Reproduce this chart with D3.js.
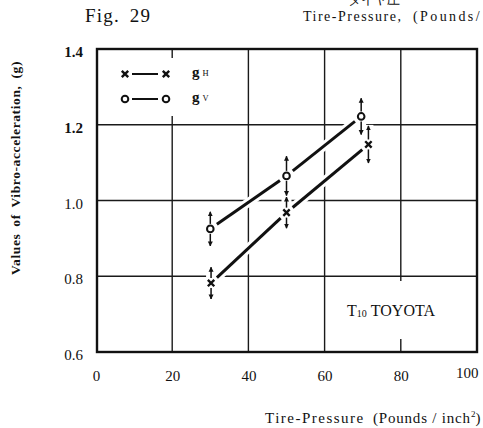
<!DOCTYPE html>
<html>
<head>
<meta charset="utf-8">
<script src="https://cdn.jsdelivr.net/npm/d3@7"></script>
<style>
  html, body { margin: 0; padding: 0; background: #fff; }
  svg { display: block; }
  text { font-family: "Liberation Serif", "DejaVu Serif", serif; fill: #111; }
</style>
</head>
<body>
<svg id="chart" width="483" height="428"></svg>
<script>
// Tire pressure (psi) and measured vibro-acceleration (g)
const pressureV = [30, 50, 69.6];
const accelV    = [0.925, 1.065, 1.222];
const spreadV   = [0.045, 0.052, 0.048];

const pressureH = [30.2, 50, 71.5];
const accelH    = [0.782, 0.968, 1.148];
const spreadH   = [0.042, 0.041, 0.049];

const xTicks = [0, 20, 40, 60, 80, 100];
const yTicks = [0.6, 0.8, 1.0, 1.2, 1.4];
const xGrid  = [20, 40, 60, 80];
const yGrid  = [0.8, 1.0, 1.2];

const svg = d3.select("#chart");
const plotL = 97, plotR = 477, plotT = 49, plotB = 352;

const x = d3.scaleLinear().domain([0, 100]).range([96, 477]);
const y = d3.scaleLinear().domain([0.6, 1.4]).range([plotB, plotT]);

// header
svg.append("text").attr("x", 348).attr("y", 4)
  .attr("font-family", "Noto Sans CJK JP").attr("font-size", 13).text("タイヤ圧");
svg.append("text").attr("x", 85).attr("y", 22)
  .attr("font-size", 19).attr("letter-spacing", 1.2).attr("word-spacing", 4).text("Fig. 29");
const hdr = svg.append("text").attr("y", 21).attr("font-size", 14);
hdr.append("tspan").attr("x", 303).attr("letter-spacing", 1.5).text("Tire-Pressure,");
hdr.append("tspan").attr("x", 413).attr("letter-spacing", 2.4).text("(Pounds/");

// grid
const grid = svg.append("g").attr("stroke", "#1a1a1a").attr("stroke-width", 1.4);
grid.selectAll("line.h").data(yGrid).join("line")
  .attr("x1", plotL).attr("x2", plotR)
  .attr("y1", d => y(d)).attr("y2", d => y(d));
grid.selectAll("line.v").data(xGrid).join("line")
  .attr("x1", d => x(d)).attr("x2", d => x(d))
  .attr("y1", plotT).attr("y2", plotB);

// white panels behind the legend and the vehicle label
svg.append("rect").attr("x", 108).attr("y", 58).attr("width", 120).attr("height", 58).attr("fill", "#fff");
svg.append("rect").attr("x", 332).attr("y", 281).attr("width", 130).attr("height", 58).attr("fill", "#fff");

// frame
svg.append("rect").attr("x", plotL).attr("y", plotT)
  .attr("width", plotR - plotL).attr("height", plotB - plotT)
  .attr("fill", "none").attr("stroke", "#111").attr("stroke-width", 2.4);

// axes
const yAxis = svg.append("g").attr("transform", `translate(${plotL},0)`)
  .call(d3.axisLeft(y).tickValues(yTicks).tickSize(0).tickPadding(14)
        .tickFormat(d3.format(".1f")));
yAxis.select(".domain").remove();
yAxis.selectAll("text").attr("font-family", "Liberation Serif").attr("font-size", 15)
  .attr("fill", "#111").attr("dy", "0.5em")
  .attr("font-weight", d => d >= 1.2 ? "bold" : "normal");

const xAxis = svg.append("g").attr("transform", `translate(0,${plotB})`)
  .call(d3.axisBottom(x).tickValues(xTicks).tickSize(0).tickPadding(18));
xAxis.select(".domain").remove();
xAxis.selectAll("text").attr("font-family", "Liberation Serif").attr("font-size", 15).attr("fill", "#111");
xAxis.selectAll(".tick").filter(d => d === 100).select("text")
  .attr("text-anchor", "end").attr("x", 1).attr("y", 15);

// axis titles
svg.append("text")
  .attr("transform", "translate(20,168) rotate(-90)")
  .attr("text-anchor", "middle").attr("font-size", 13.5).attr("font-weight", "bold")
  .attr("letter-spacing", 0.6).attr("word-spacing", 3)
  .text("Values of Vibro-acceleration, (g)");
const xt = svg.append("text").attr("y", 423).attr("font-size", 15);
xt.append("tspan").attr("x", 265).attr("letter-spacing", 1.5).text("Tire-Pressure");
xt.append("tspan").attr("x", 373).attr("letter-spacing", 0.8).text("(Pounds / inch");
xt.append("tspan").attr("font-size", 9).attr("dy", -6).text("2");
xt.append("tspan").attr("dy", 6).text(")");

// series
function segments(px, py, gap) {
  const out = [];
  for (let i = 0; i < px.length - 1; i++) {
    const x1 = x(px[i]), y1 = y(py[i]), x2 = x(px[i + 1]), y2 = y(py[i + 1]);
    const len = Math.hypot(x2 - x1, y2 - y1);
    const ux = (x2 - x1) / len, uy = (y2 - y1) / len;
    out.push([x1 + ux * gap, y1 + uy * gap, x2 - ux * gap, y2 - uy * gap]);
  }
  return out;
}

const series = [
  { px: pressureV, py: accelV, sp: spreadV, mark: "o" },
  { px: pressureH, py: accelH, sp: spreadH, mark: "x" }
];

const defs = svg.append("defs");
defs.append("marker").attr("id", "head").attr("viewBox", "0 0 10 10")
  .attr("refX", 9).attr("refY", 5).attr("markerWidth", 5).attr("markerHeight", 6)
  .attr("markerUnits", "userSpaceOnUse").attr("orient", "auto")
  .append("path").attr("d", "M0,0 L10,5 L0,10 Z").attr("fill", "#111");

const halo = svg.append("g");
const ink = svg.append("g");

series.forEach(s => {
  const segs = segments(s.px, s.py, 8);
  // white halo so grid lines break around the data
  halo.selectAll(null).data(segs).join("line")
    .attr("x1", d => d[0]).attr("y1", d => d[1]).attr("x2", d => d[2]).attr("y2", d => d[3])
    .attr("stroke", "#fff").attr("stroke-width", 9);
  ink.selectAll(null).data(segs).join("line")
    .attr("x1", d => d[0]).attr("y1", d => d[1]).attr("x2", d => d[2]).attr("y2", d => d[3])
    .attr("stroke", "#111").attr("stroke-width", 3);

  s.px.forEach((p, i) => {
    const cx = x(p), cy = y(s.py[i]);
    const yt = y(s.py[i] + s.sp[i]), yb = y(s.py[i] - s.sp[i]);
    halo.append("rect").attr("x", cx - 5).attr("y", yt - 1).attr("width", 10)
      .attr("height", yb - yt + 2).attr("fill", "#fff");
    ink.append("line").attr("x1", cx).attr("x2", cx).attr("y1", cy - 5).attr("y2", yt)
      .attr("stroke", "#111").attr("stroke-width", 1.5).attr("marker-end", "url(#head)");
    ink.append("line").attr("x1", cx).attr("x2", cx).attr("y1", cy + 5).attr("y2", yb)
      .attr("stroke", "#111").attr("stroke-width", 1.5).attr("marker-end", "url(#head)");
  });
});

function drawMark(g, kind, cx, cy) {
  if (kind === "o") {
    g.append("circle").attr("cx", cx).attr("cy", cy).attr("r", 3.3)
      .attr("fill", "#fff").attr("stroke", "#111").attr("stroke-width", 2);
  } else {
    const r = 3.2;
    g.append("path")
      .attr("d", `M${cx - r},${cy - r}L${cx + r},${cy + r}M${cx + r},${cy - r}L${cx - r},${cy + r}`)
      .attr("stroke", "#111").attr("stroke-width", 2.4);
  }
}
series.forEach(s => s.px.forEach((p, i) => drawMark(ink, s.mark, x(p), y(s.py[i]))));

// legend
const legend = svg.append("g");
const legendRows = [{ mark: "x", sub: "H", yy: 74 }, { mark: "o", sub: "V", yy: 99 }];
legendRows.forEach(r => {
  drawMark(legend, r.mark, 125, r.yy);
  legend.append("line").attr("x1", 132).attr("x2", 158).attr("y1", r.yy).attr("y2", r.yy)
    .attr("stroke", "#111").attr("stroke-width", 2);
  drawMark(legend, r.mark, 166, r.yy);
  const t = legend.append("text").attr("x", 192).attr("y", r.yy + 3);
  t.append("tspan").attr("font-size", 15).attr("font-weight", "bold").text("g");
  t.append("tspan").attr("font-size", 8.5).attr("dx", 3).attr("dy", -1).text(r.sub);
});

// vehicle label
const lab = svg.append("text").attr("x", 347).attr("y", 316).attr("font-size", 16);
lab.append("tspan").text("T");
lab.append("tspan").attr("font-size", 10).attr("dy", 1).text("10");
lab.append("tspan").attr("dy", -1).attr("dx", 4).text("TOYOTA");
</script>
</body>
</html>
